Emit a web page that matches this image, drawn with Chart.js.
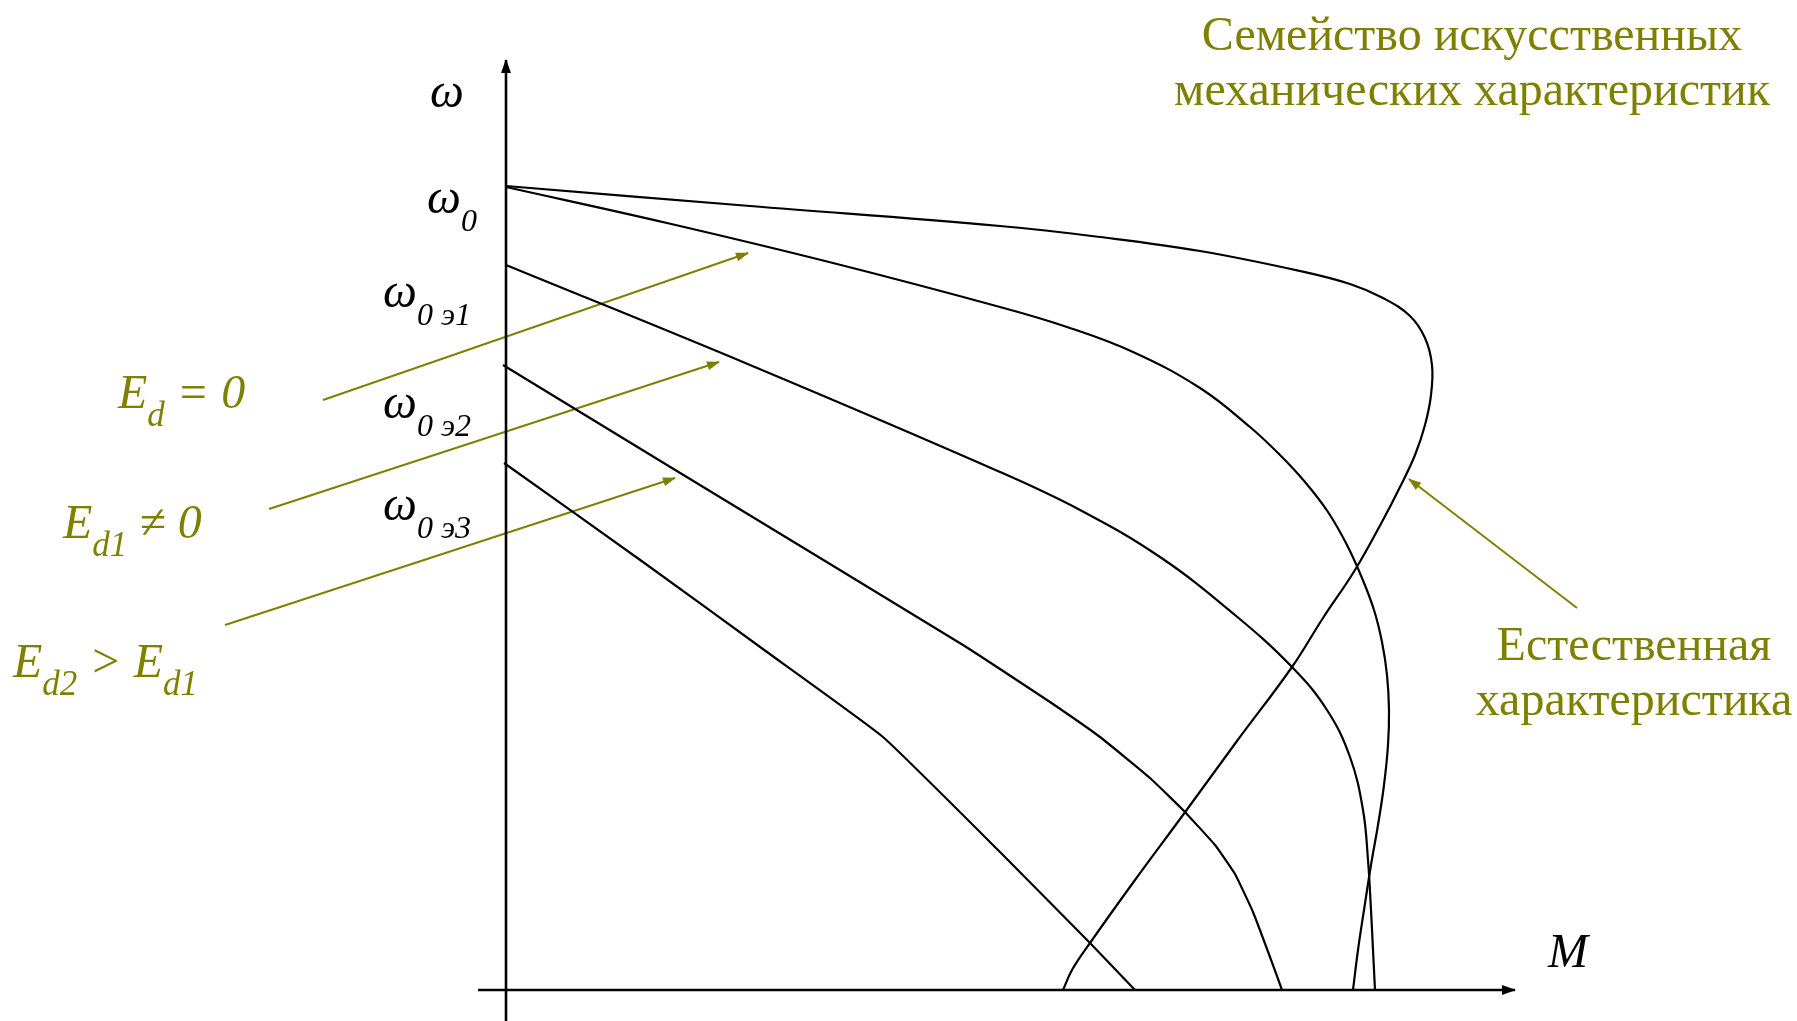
<!DOCTYPE html>
<html>
<head>
<meta charset="utf-8">
<script src="https://cdn.jsdelivr.net/npm/chart.js@4.4.1/dist/chart.umd.min.js"></script>
<style>
    html, body { margin: 0; padding: 0; background: #fff; }
    canvas { display: block; }
</style>
</head>
<body>
<canvas id="chart-mech" width="1797" height="1021"></canvas>
<script>
// M - torque, W - speed (omega), both in the same arbitrary units
const naturalM = [0, 24.4, 49.4, 59.4, 69.4, 79.4, 84.4, 87.7, 90.4, 91.9, 92.6, 92.5, 91.9, 90.9, 89.4, 87.7, 84.9, 81.7, 78.6, 73.1, 67.7, 62.9, 58.4, 56.6, 55.7];
const naturalW = [80.4, 78.4, 76.4, 75.3, 73.9, 71.9, 70.6, 69.2, 67.4, 65.2, 62.5, 59.5, 56.5, 53.5, 50.3, 47.0, 42.0, 37.2, 32.3, 24.9, 17.5, 11.0, 4.7, 2.0, 0];

const ed0M = [0, 16.1, 32.7, 49.4, 56.1, 62.7, 69.4, 74.4, 77.4, 79.9, 82.2, 84.1, 85.6, 86.8, 87.6, 88.1, 88.3, 88.2, 87.8, 87.2, 86.5, 85.8, 85.2, 84.7];
const ed0W = [80.3, 76.7, 72.7, 68.3, 66.3, 63.8, 60.2, 56.3, 53.5, 50.8, 47.8, 44.5, 41.2, 38.0, 34.8, 31.5, 28.0, 24.5, 20.5, 16.5, 12.5, 8.0, 4.0, 0];

const e1M = [0, 24.4, 49.4, 57.4, 65.4, 72.9, 78.6, 82.1, 84.4, 85.7, 86.2, 86.5, 86.7, 86.9];
const e1W = [72.5, 62.5, 51.8, 48.0, 43.3, 37.5, 32.3, 28.0, 23.3, 18.0, 13.0, 8.0, 4.0, 0];

const e2M = [-0.3, 16.1, 32.4, 45.7, 49.4, 54.4, 59.4, 64.4, 67.7, 70.9, 72.9, 74.7, 76.4, 77.6];
const e2W = [62.5, 52.5, 42.6, 34.5, 32.1, 28.8, 25.3, 21.2, 18.0, 14.5, 11.6, 7.8, 3.3, 0];

const e3M = [-0.2, 13.7, 26.1, 37.7, 49.4, 58.4, 62.9];
const e3W = [52.7, 42.8, 33.8, 25.3, 13.8, 4.7, 0];

// pointer arrows: [startM, startW, endM, endW]
const pointerEd0 = [-18.3, 59.0, 24.2, 73.7];
const pointerEd1 = [-23.7, 48.1, 21.3, 62.8];
const pointerEd2 = [-28.1, 36.5, 16.9, 51.2];
const pointerNatural = [107.1, 38.2, 90.3, 51.1];

const axisM = [-2.8, 100.9];
const axisW = [-3.1, 93.0];

const olive = '#808000';
const serif = '"Liberation Serif", "Times New Roman", serif';

function toPoints(ms, ws) {
    return ms.map((m, i) => ({x: m, y: ws[i]}));
}

function curve(ms, ws, tension) {
    return {
        data: toPoints(ms, ws),
        showLine: true,
        borderColor: '#000',
        borderWidth: 2.2,
        pointRadius: 0,
        tension: tension,
    };
}

function pointer(p) {
    return {
        data: [{x: p[0], y: p[1]}, {x: p[2], y: p[3]}],
        showLine: true,
        borderColor: olive,
        borderWidth: 2,
        pointRadius: 0,
        arrow: {len: 12, half: 4.5, color: olive},
    };
}

let datasets = [
    {
        data: [{x: axisM[0], y: 0}, {x: axisM[1], y: 0}],
        showLine: true, borderColor: '#000', borderWidth: 2.6, pointRadius: 0,
        arrow: {len: 13, half: 5, color: '#000'},
    },
    {
        data: [{x: 0, y: axisW[0]}, {x: 0, y: axisW[1]}],
        showLine: true, borderColor: '#000', borderWidth: 2.6, pointRadius: 0,
        arrow: {len: 13, half: 5, color: '#000'},
    },
    curve(naturalM, naturalW, 0.4),
    curve(ed0M, ed0W, 0.4),
    curve(e1M, e1W, 0.4),
    curve(e2M, e2W, 0.12),
    curve(e3M, e3W, 0.12),
    pointer(pointerEd0),
    pointer(pointerEd1),
    pointer(pointerEd2),
    pointer(pointerNatural),
];

// label pieces: [text, isSubscript]
const labels = [
    {parts: [['ω']], m: -7.6, w: 88.3, color: '#000', size: 48, sub: 32},
    {parts: [['ω'], ['0', 1]], m: -7.9, w: 77.7, color: '#000', size: 48, sub: 32},
    {parts: [['ω'], ['0 э1', 1]], m: -12.3, w: 68.3, color: '#000', size: 48, sub: 32},
    {parts: [['ω'], ['0 э2', 1]], m: -12.3, w: 57.2, color: '#000', size: 48, sub: 32},
    {parts: [['ω'], ['0 э3', 1]], m: -12.3, w: 47.0, color: '#000', size: 48, sub: 32},
    {parts: [['M']], m: 104.2, w: 2.3, color: '#000', size: 48, sub: 32},
    {parts: [['E'], ['d', 1], [' = 0']], m: -38.8, w: 58.2, color: olive, size: 48, sub: 35},
    {parts: [['E'], ['d1', 1], [' ≠ 0']], m: -44.3, w: 45.2, color: olive, size: 48, sub: 35},
    {parts: [['E'], ['d2', 1], [' > E'], ['d1', 1]], m: -49.3, w: 31.3, color: olive, size: 48, sub: 35},
];

const captions = [
    {lines: ['Семейство искусственных', 'механических характеристик'], m: 96.6, w: 94.0},
    {lines: ['Естественная', 'характеристика'], m: 112.8, w: 33.0},
];

const arrowHeads = {
    id: 'arrowHeads',
    afterDatasetsDraw(chart) {
        const ctx = chart.ctx;
        chart.data.datasets.forEach((ds, i) => {
            if (!ds.arrow) return;
            const pts = chart.getDatasetMeta(i).data;
            const a = pts[pts.length - 2], b = pts[pts.length - 1];
            const ang = Math.atan2(b.y - a.y, b.x - a.x);
            const {len, half, color} = ds.arrow;
            ctx.save();
            ctx.translate(b.x, b.y);
            ctx.rotate(ang);
            ctx.fillStyle = color;
            ctx.beginPath();
            ctx.moveTo(1, 0);
            ctx.lineTo(-len, -half);
            ctx.lineTo(-len, half);
            ctx.closePath();
            ctx.fill();
            ctx.restore();
        });
    }
};

const textLabels = {
    id: 'textLabels',
    afterDraw(chart) {
        const ctx = chart.ctx;
        const sx = chart.scales.x, sy = chart.scales.y;
        ctx.save();
        ctx.textBaseline = 'alphabetic';
        labels.forEach(l => {
            let x = sx.getPixelForValue(l.m);
            const y = sy.getPixelForValue(l.w);
            ctx.fillStyle = l.color;
            ctx.textAlign = 'left';
            l.parts.forEach(([t, sub]) => {
                ctx.font = 'italic ' + (sub ? l.sub : l.size) + 'px ' + serif;
                ctx.fillText(t, x, sub ? y + 18 : y);
                x += ctx.measureText(t).width;
            });
        });
        ctx.fillStyle = olive;
        ctx.textAlign = 'center';
        ctx.font = '48px ' + serif;
        captions.forEach(c => {
            const x = sx.getPixelForValue(c.m);
            const y = sy.getPixelForValue(c.w);
            c.lines.forEach((line, k) => ctx.fillText(line, x, y + k * 55));
        });
        ctx.restore();
    }
};

const chart = new Chart(document.getElementById('chart-mech'), {
    type: 'scatter',
    data: {datasets: datasets},
    options: {
        responsive: false,
        animation: false,
        layout: {padding: 0},
        plugins: {legend: {display: false}, tooltip: {enabled: false}},
        scales: {
            x: {type: 'linear', display: false, min: -50.6, max: 129.1},
            y: {type: 'linear', display: false, min: -3.1, max: 99.0},
        },
    },
    plugins: [arrowHeads, textLabels],
});

// system fonts may not be ready at first paint
Promise.all([
    document.fonts.load('48px "Liberation Serif"'),
    document.fonts.load('italic 48px "Liberation Serif"'),
]).then(() => chart.render());
</script>
</body>
</html>
